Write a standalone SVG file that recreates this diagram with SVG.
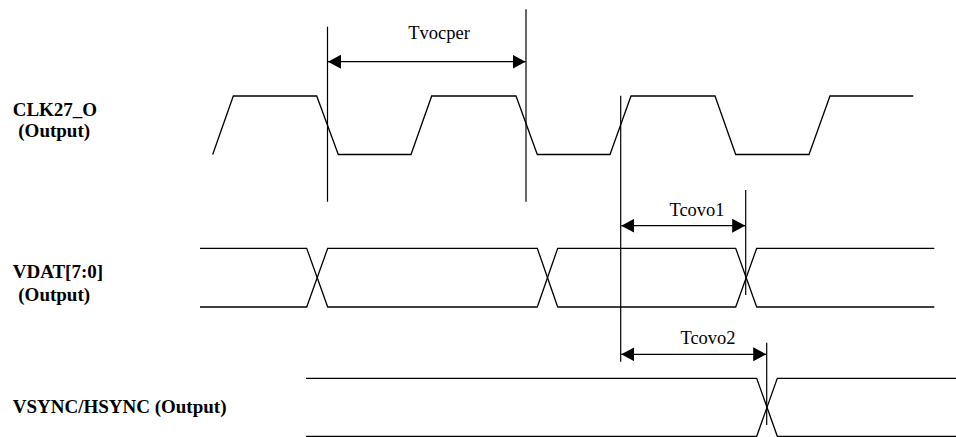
<svg xmlns="http://www.w3.org/2000/svg" width="956" height="437" viewBox="0 0 956 437">
<style>
.w{fill:none;stroke:#000;stroke-width:1.3;stroke-linejoin:miter}
.g{fill:none;stroke:#000;stroke-width:1.2}
.d{fill:none;stroke:#000;stroke-width:1.2;marker-start:url(#ah);marker-end:url(#ah)}
.lb{font-family:"Liberation Serif","Times New Roman",serif;font-weight:bold;font-size:19px;fill:#000}
.t{font-family:"Liberation Serif","Times New Roman",serif;font-size:18.5px;fill:#000;text-anchor:middle}
</style>
<defs>
<marker id="ah" viewBox="0 0 13 14" refX="13" refY="7" markerWidth="13" markerHeight="14" markerUnits="userSpaceOnUse" orient="auto-start-reverse">
<path d="M0,0 L13,7 L0,14 Z" fill="#000"/>
</marker>
</defs>
<g id="labels">
<text class="lb" x="12.7" y="116">CLK27_O</text>
<text class="lb" x="18.3" y="137">(Output)</text>
<text class="lb" x="12.7" y="278">VDAT[7:0]</text>
<text class="lb" x="18.3" y="301">(Output)</text>
<text class="lb" x="12.7" y="413">VSYNC/HSYNC (Output)</text>
</g>
<g id="clk">
<polyline class="w" points="212.7,154.5 233.3,96 316.7,96 338.3,154.5 411,154.5 431.7,96 516,96 537.3,154.5 610,154.5 631,96 715,96 735.7,154.5 809,154.5 830,96 913.3,96"/>
</g>
<g id="vdat">
<polyline class="w" points="200,248.3 306.7,248.3 327.7,307 537.3,307 557.7,248.3 735.7,248.3 756.7,307 934.3,307"/>
<polyline class="w" points="200,307 306.7,307 327.7,248.3 537.3,248.3 557.7,307 735.7,307 756.7,248.3 934.3,248.3"/>
</g>
<g id="vsync">
<polyline class="w" points="306,378.3 756.7,378.3 777.3,436.3 956,436.3"/>
<polyline class="w" points="306,436.3 756.7,436.3 777.3,378.3 956,378.3"/>
</g>
<g id="connectors">
<line class="g" x1="327.5" y1="26.7" x2="327.5" y2="201.7"/>
<line class="g" x1="526" y1="9.3" x2="526" y2="201.7"/>
<line class="g" x1="620.7" y1="95.7" x2="620.7" y2="361.7"/>
<line class="g" x1="745.7" y1="190" x2="745.7" y2="295"/>
<line class="g" x1="766.7" y1="342.7" x2="766.7" y2="425"/>
<line class="d" x1="328" y1="61.7" x2="525.5" y2="61.7"/>
<line class="d" x1="621.3" y1="225.7" x2="745.2" y2="225.7"/>
<line class="d" x1="621.3" y1="354.3" x2="766.2" y2="354.3"/>
</g>
<g id="dims">
<text class="t" x="439" y="39">Tvocper</text>
<text class="t" x="697" y="216">Tcovo1</text>
<text class="t" x="708" y="344">Tcovo2</text>
</g>
</svg>
